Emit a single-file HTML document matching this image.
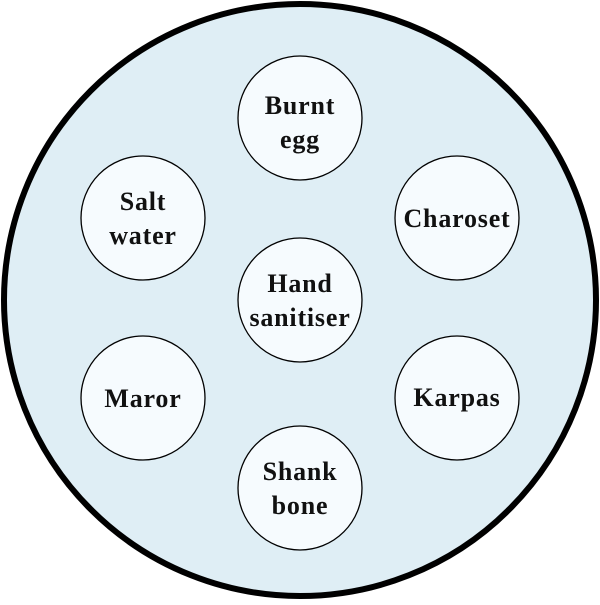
<!DOCTYPE html>
<html><head><style>html,body{margin:0;padding:0;background:#fff}</style></head>
<body>
<svg width="600" height="600" xmlns="http://www.w3.org/2000/svg" font-family="Liberation Serif, serif" font-weight="bold" font-size="26" letter-spacing="0.8" text-anchor="middle">
<circle cx="300" cy="300" r="296" fill="#dfeef5" stroke="#000" stroke-width="6"/>
<g fill="#f6fbfe" stroke="#000" stroke-width="1.3">
<circle cx="300" cy="118" r="62"/>
<circle cx="143" cy="218" r="62"/>
<circle cx="457" cy="218" r="62"/>
<circle cx="300" cy="300" r="62"/>
<circle cx="143" cy="398" r="62"/>
<circle cx="457" cy="398" r="62"/>
<circle cx="300" cy="488" r="62"/>
</g>
<g fill="#111">
<text x="300" y="114">Burnt</text><text x="300" y="148">egg</text>
<text x="143" y="210">Salt</text><text x="143" y="244">water</text>
<text x="457" y="227">Charoset</text>
<text x="300" y="292">Hand</text><text x="300" y="326">sanitiser</text>
<text x="143" y="407">Maror</text>
<text x="457" y="406">Karpas</text>
<text x="300" y="480">Shank</text><text x="300" y="514">bone</text>
</g>
</svg>
</body></html>
